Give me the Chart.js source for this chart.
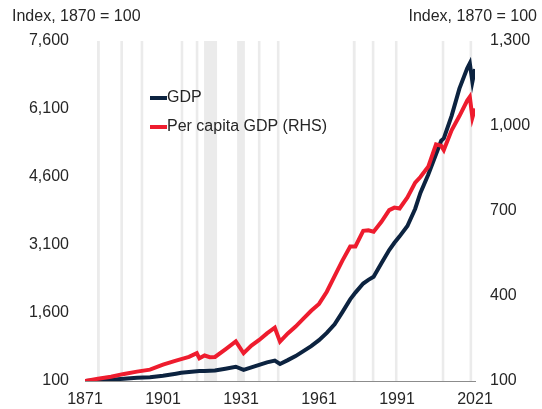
<!DOCTYPE html>
<html lang="en">
<head>
  <meta charset="UTF-8">
  <title>GDP and per capita GDP index</title>
  <script src="https://cdn.jsdelivr.net/npm/chart.js"></script>
  <style>
    body {
      margin: 0;
      padding: 0;
      background: #fff;
    }
    .chart-box {
      width: 542px;
      height: 409px;
    }
  </style>
</head>
<body>
  <div class="chart-box">
    <canvas id="gdpChart" width="542" height="409"></canvas>
  </div>

  <script>
    // Years (both series share them)
    const years = [1871, 1876, 1881, 1886, 1891, 1896, 1901, 1906, 1908, 1911, 1914, 1915, 1917, 1919, 1921,
      1925, 1929, 1932, 1935, 1938, 1941, 1944, 1946, 1949, 1952, 1955, 1958, 1961, 1964, 1967, 1970,
      1973, 1975, 1978, 1980, 1982, 1985, 1988, 1990, 1992, 1995, 1998, 2000, 2003, 2006, 2008, 2009,
      2012, 2015, 2018, 2019, 2020, 2021];

    // GDP, index 1870 = 100 (left axis)
    const gdp = [100, 115, 130, 150, 170, 185, 215, 260, 280, 300, 315, 318, 322, 326, 330,
      370, 415, 345, 400, 455, 510, 550, 475, 560, 650, 760, 870, 1000, 1160, 1350, 1620,
      1900, 2050, 2250, 2330, 2400, 2700, 2990, 3150, 3290, 3520, 3900, 4250, 4650, 5100, 5400, 5450,
      5950, 6550, 7000, 7110, 6700, 6980];

    // Per capita GDP, index 1870 = 100 (right axis)
    const perCapita = [100, 108, 115, 125, 133, 140, 158, 172, 177, 185, 198, 180, 190, 184, 185,
      212, 240, 198, 225, 245, 268, 288, 239, 268, 292, 320, 348, 372, 415, 470, 525,
      575, 575, 630, 632, 627, 662, 703, 712, 709, 748, 800, 820, 856, 935, 930, 915,
      985, 1035, 1090, 1103, 1030, 1062];

    // Shaded periods (start, end year)
    const bandStart = [1875.6, 1884.6, 1892.4, 1907.8, 1913.6, 1916.8, 1929.5, 1937.5, 1944.8,
      1974.0, 1981.3, 1990.2, 2008.2, 2018.9];
    const bandEnd = [1876.7, 1885.6, 1893.4, 1908.8, 1914.6, 1921.8, 1932.5, 1938.5, 1945.8,
      1975.1, 1982.3, 1991.2, 2009.2, 2019.9];

    const xTicks = [1871, 1901, 1931, 1961, 1991, 2021];
    const leftTicks = [100, 1600, 3100, 4600, 6100, 7600];
    const rightTicks = [100, 400, 700, 1000, 1300];

    Chart.defaults.font.family = "'Liberation Sans', Arial, sans-serif";
    Chart.defaults.font.size = 16;
    Chart.defaults.color = '#262626';

    const navy = '#0c2340';
    const red = '#ee1c2e';

    // grey bars behind the lines
    const bandsPlugin = {
      id: 'bands',
      beforeDatasetsDraw(chart) {
        const ctx = chart.ctx;
        const area = chart.chartArea;
        const xs = chart.scales.x;
        ctx.save();
        ctx.fillStyle = '#ebebeb';
        bandStart.forEach((s, i) => {
          const x1 = xs.getPixelForValue(s);
          const x2 = xs.getPixelForValue(bandEnd[i]);
          ctx.fillRect(x1, area.top, x2 - x1, area.bottom - area.top);
        });
        ctx.restore();
      }
    };

    // axis titles on top + legend inside the plot
    const labelsPlugin = {
      id: 'labels',
      afterDraw(chart) {
        const ctx = chart.ctx;
        ctx.save();
        ctx.font = "16px 'Liberation Sans', Arial, sans-serif";
        ctx.fillStyle = '#262626';
        ctx.textBaseline = 'middle';
        ctx.textAlign = 'left';
        ctx.fillText('Index, 1870 = 100', 12, 17);
        ctx.textAlign = 'right';
        ctx.fillText('Index, 1870 = 100', 537, 17);

        ctx.textAlign = 'left';
        chart.data.datasets.forEach((ds, i) => {
          const y = 98 + i * 29;
          ctx.strokeStyle = ds.borderColor;
          ctx.lineWidth = 4;
          ctx.beginPath();
          ctx.moveTo(150, y);
          ctx.lineTo(167, y);
          ctx.stroke();
          ctx.fillText(ds.label, 167, y);
        });
        ctx.restore();
      }
    };

    const ctx = document.getElementById('gdpChart').getContext('2d');
    const gdpChart = new Chart(ctx, {
      type: 'line',
      data: {
        datasets: [
          {
            label: 'GDP',
            data: years.map((yr, i) => ({ x: yr, y: gdp[i] })),
            borderColor: navy,
            borderWidth: 4,
            pointRadius: 0,
            tension: 0,
            yAxisID: 'y',
            order: 1
          },
          {
            label: 'Per capita GDP (RHS)',
            data: years.map((yr, i) => ({ x: yr, y: perCapita[i] })),
            borderColor: red,
            borderWidth: 4,
            pointRadius: 0,
            tension: 0,
            yAxisID: 'y1',
            order: 0
          }
        ]
      },
      options: {
        responsive: false,
        animation: false,
        devicePixelRatio: 1,
        layout: { padding: { top: 41, left: 0, right: 0, bottom: 0 } },
        plugins: {
          legend: { display: false },
          tooltip: { enabled: false }
        },
        scales: {
          x: {
            type: 'linear',
            min: 1871,
            max: 2021,
            grid: { display: false, drawTicks: false },
            border: { display: true, color: '#8c8c8c', width: 1 },
            afterBuildTicks: scale => { scale.ticks = xTicks.map(v => ({ value: v })); },
            afterFit: scale => { scale.height = 28; },
            ticks: {
              padding: 9,
              maxRotation: 0,
              autoSkip: false,
              callback: v => String(v)
            }
          },
          y: {
            position: 'left',
            min: 100,
            max: 7600,
            grid: { display: false, drawTicks: false },
            border: { display: false },
            afterBuildTicks: scale => { scale.ticks = leftTicks.map(v => ({ value: v })); },
            afterFit: scale => { scale.width = 85; },
            ticks: {
              padding: 16,
              callback: v => v.toLocaleString('en-US')
            }
          },
          y1: {
            position: 'right',
            min: 100,
            max: 1300,
            grid: { display: false, drawTicks: false },
            border: { display: false },
            afterBuildTicks: scale => { scale.ticks = rightTicks.map(v => ({ value: v })); },
            afterFit: scale => { scale.width = 67; },
            ticks: {
              padding: 15,
              callback: v => v.toLocaleString('en-US')
            }
          }
        }
      },
      plugins: [bandsPlugin, labelsPlugin]
    });
  </script>
</body>
</html>
